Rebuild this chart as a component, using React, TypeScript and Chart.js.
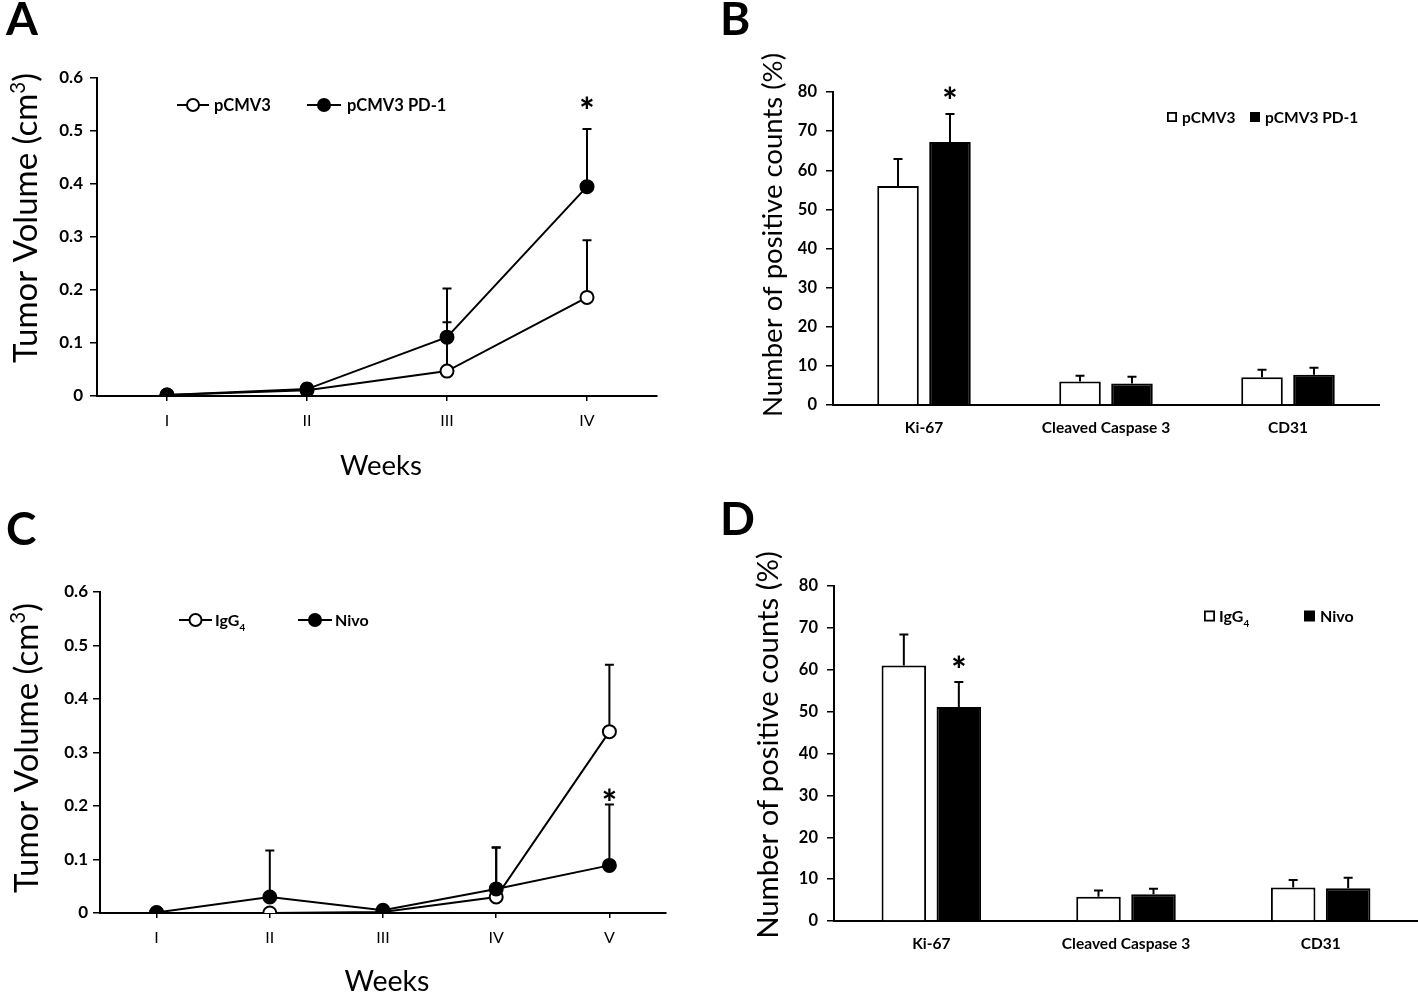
import React, { useEffect, useRef } from "react";
import { Chart, registerables } from "chart.js";

Chart.register(...registerables);

// ---------- Data ----------
const weeksA = ["I", "II", "III", "IV"];
const pcmv3Vol = [0.002, 0.011, 0.047, 0.186];
const pcmv3VolErr = [0, 0.008, 0.092, 0.108];
const pd1Vol = [0.002, 0.013, 0.111, 0.395];
const pd1VolErr = [0, 0.01, 0.092, 0.109];
const pd1VolSig = [false, false, false, true];

const markers = ["Ki-67", "Cleaved Caspase 3", "CD31"];
const pcmv3Pos = [56, 6.0, 7.1];
const pcmv3PosErr = [6.9, 1.5, 1.9];
const pd1Pos = [67.2, 5.5, 7.75];
const pd1PosErr = [7.2, 1.7, 1.8];
const pd1PosSig = [true, false, false];

const weeksC = ["I", "II", "III", "IV", "V"];
const iggVol = [0, 0, 0.002, 0.03, 0.339];
const iggVolErr = [0, 0, 0, 0.093, 0.125];
const nivoVol = [0.001, 0.03, 0.005, 0.045, 0.089];
const nivoVolErr = [0, 0.087, 0, 0.077, 0.114];
const nivoVolSig = [false, false, false, false, true];

const iggPos = [61, 5.8, 8.0];
const iggPosErr = [7.4, 1.5, 1.8];
const nivoPos = [51.1, 6.4, 7.8];
const nivoPosErr = [6, 1.3, 2.5];
const nivoPosSig = [true, false, false];

const volumeMax = 0.6;
const volumeStep = 0.1;
const countMax = 80;
const countStep = 10;

// ---------- Layout ----------
const PW = 709;
const PH = 496;
const FONT = "Lato";

type Seg = { t: string; k?: number; dy?: number };

function segWidths(ctx: CanvasRenderingContext2D, segs: Seg[], size: number, weight: string) {
  return segs.map((s) => {
    ctx.font = `${weight} ${size * (s.k ?? 1)}px ${FONT}`;
    return ctx.measureText(s.t).width;
  });
}

function drawRich(
  ctx: CanvasRenderingContext2D,
  segs: Seg[],
  size: number,
  weight: string,
  x: number,
  cy: number,
  rot: number,
  align: "center" | "left"
) {
  const ws = segWidths(ctx, segs, size, weight);
  const total = ws.reduce((a, b) => a + b, 0);
  ctx.save();
  ctx.translate(x, cy);
  ctx.rotate(rot);
  ctx.textAlign = "left";
  ctx.textBaseline = "alphabetic";
  ctx.fillStyle = "#000";
  let px = align === "center" ? -total / 2 : 0;
  segs.forEach((s, i) => {
    ctx.font = `${weight} ${size * (s.k ?? 1)}px ${FONT}`;
    ctx.fillText(s.t, px, 0.36 * size + (s.dy ?? 0) * size);
    px += ws[i];
  });
  ctx.restore();
}

function fitSize(ctx: CanvasRenderingContext2D, segs: Seg[], weight: string, span: number) {
  const ws = segWidths(ctx, segs, 100, weight);
  const total = ws.reduce((a, b) => a + b, 0);
  return (100 * span) / total;
}

type LegendItem = {
  kind: "lineOpen" | "lineFilled" | "boxOpen" | "boxFilled";
  x: number;
  y: number;
  segs: Seg[];
  size: number;
  weight: string;
  symW: number;
  gap: number;
};

type Decor = {
  letter: { text: string; x: number; y: number };
  yTitle: { segs: Seg[]; cx: number; cy: number; span: number };
  xTitle?: { segs: Seg[]; cx: number; cy: number; span: number };
  legend: LegendItem[];
  starOffset: number;
  capHalf: number;
};

function makePlugins(decor: Decor) {
  const errorBars = {
    id: "errorBars",
    beforeDatasetsDraw(chart: any) {
      const ctx: CanvasRenderingContext2D = chart.ctx;
      const ys = chart.scales.y;
      ctx.save();
      ctx.strokeStyle = "#000";
      ctx.lineWidth = 2;
      chart.data.datasets.forEach((ds: any, di: number) => {
        const meta = chart.getDatasetMeta(di);
        meta.data.forEach((el: any, i: number) => {
          const e = ds.errors ? ds.errors[i] : 0;
          if (!e) return;
          const v = ds.data[i];
          const x = el.x;
          const y0 = ys.getPixelForValue(v);
          const y1 = ys.getPixelForValue(v + e);
          ctx.beginPath();
          ctx.moveTo(x, y0);
          ctx.lineTo(x, y1);
          ctx.moveTo(x - decor.capHalf, y1);
          ctx.lineTo(x + decor.capHalf, y1);
          ctx.stroke();
        });
      });
      ctx.restore();
    },
    afterDatasetsDraw(chart: any) {
      const ctx: CanvasRenderingContext2D = chart.ctx;
      const ys = chart.scales.y;
      ctx.save();
      ctx.fillStyle = "#000";
      ctx.font = `900 36px ${FONT}`;
      const m = ctx.measureText("*");
      const off = (m.actualBoundingBoxAscent - m.actualBoundingBoxDescent) / 2;
      ctx.textAlign = "center";
      ctx.textBaseline = "alphabetic";
      chart.data.datasets.forEach((ds: any, di: number) => {
        const meta = chart.getDatasetMeta(di);
        meta.data.forEach((el: any, i: number) => {
          if (!ds.sig || !ds.sig[i]) return;
          const top = ys.getPixelForValue(ds.data[i] + (ds.errors ? ds.errors[i] : 0));
          ctx.fillText("*", el.x, top - decor.starOffset + off);
        });
      });
      ctx.restore();
    },
  };

  const decorPlugin = {
    id: "decor",
    afterDraw(chart: any) {
      const ctx: CanvasRenderingContext2D = chart.ctx;
      ctx.save();
      // panel letter
      ctx.fillStyle = "#000";
      ctx.font = `bold 46px ${FONT}`;
      ctx.textAlign = "left";
      ctx.textBaseline = "alphabetic";
      ctx.fillText(decor.letter.text, decor.letter.x, decor.letter.y);

      // y title
      const yt = decor.yTitle;
      const ys = fitSize(ctx, yt.segs, "normal", yt.span);
      drawRich(ctx, yt.segs, ys, "normal", yt.cx, yt.cy, -Math.PI / 2, "center");
      if (decor.xTitle) {
        const xt = decor.xTitle;
        const xs = fitSize(ctx, xt.segs, "normal", xt.span);
        drawRich(ctx, xt.segs, xs, "normal", xt.cx, xt.cy, 0, "center");
      }

      // legend
      decor.legend.forEach((it) => {
        ctx.save();
        ctx.strokeStyle = "#000";
        ctx.fillStyle = "#000";
        ctx.lineWidth = 2;
        if (it.kind === "lineOpen" || it.kind === "lineFilled") {
          ctx.beginPath();
          ctx.moveTo(it.x, it.y);
          ctx.lineTo(it.x + it.symW, it.y);
          ctx.stroke();
          ctx.beginPath();
          ctx.arc(it.x + it.symW / 2, it.y, 6, 0, Math.PI * 2);
          ctx.fillStyle = it.kind === "lineOpen" ? "#fff" : "#000";
          ctx.fill();
          ctx.stroke();
        } else {
          const s = it.symW;
          if (it.kind === "boxFilled") {
            ctx.fillRect(it.x, it.y - s / 2, s, s);
          } else {
            ctx.lineWidth = 1.8;
            ctx.fillStyle = "#fff";
            ctx.fillRect(it.x, it.y - s / 2, s, s);
            ctx.strokeRect(it.x + 0.9, it.y - s / 2 + 0.9, s - 1.8, s - 1.8);
          }
        }
        ctx.restore();
        drawRich(ctx, it.segs, it.size, it.weight, it.x + it.symW + it.gap, it.y, 0, "left");
      });
      ctx.restore();
    },
  };
  return [errorBars, decorPlugin];
}

function yAxisCommon(max: number, step: number, tickPad: number, fmt: (v: number) => string, fontSize: number) {
  return {
    min: 0,
    max,
    afterFit: (s: any) => {
      s.width = 60;
    },
    ticks: {
      stepSize: step,
      color: "#000",
      padding: tickPad,
      font: { family: FONT, size: fontSize, weight: "bold" },
      callback: (v: any) => fmt(Number(v)),
    },
    grid: {
      display: true,
      drawOnChartArea: false,
      drawTicks: true,
      tickLength: 7,
      color: "#000",
      lineWidth: 1.5,
    },
    border: { display: true, color: "#000", width: 2 },
  };
}

type LineSeries = { data: number[]; err: number[]; sig?: boolean[]; open: boolean };

function lineConfig(labels: string[], series: LineSeries[], pad: any, decor: Decor, yTickPad: number) {
  return {
    type: "line" as const,
    data: {
      labels,
      datasets: series.map((s) => ({
        data: s.data,
        errors: s.err,
        sig: s.sig,
        order: s.open ? 1 : 0,
        borderColor: "#000",
        borderWidth: 2,
        pointRadius: 6.5,
        pointHoverRadius: 6.5,
        pointBorderWidth: 2,
        pointBackgroundColor: s.open ? "#fff" : "#000",
        pointBorderColor: "#000",
        tension: 0,
        fill: false,
      })),
    },
    options: {
      responsive: false,
      animation: false,
      events: [],
      layout: { padding: pad },
      plugins: { legend: { display: false }, tooltip: { enabled: false } },
      scales: {
        x: {
          type: "category",
          offset: true,
          afterFit: (s: any) => {
            s.height = 40;
          },
          grid: {
            display: true,
            drawOnChartArea: false,
            drawTicks: true,
            tickLength: 5,
            color: "#000",
            lineWidth: 1.5,
            offset: false,
          },
          border: { display: true, color: "#000", width: 2 },
          ticks: {
            color: "#000",
            padding: 10,
            maxRotation: 0,
            autoSkip: false,
            font: { family: FONT, size: 16 },
          },
        },
        y: yAxisCommon(volumeMax, volumeStep, yTickPad, (v) => String(Math.round(v * 10) / 10), 17),
      },
    },
    plugins: makePlugins(decor),
  };
}

type BarSeries = { data: number[]; err: number[]; sig?: boolean[]; open: boolean };

function barConfig(labels: string[], series: BarSeries[], pad: any, decor: Decor, cp: number, bp: number) {
  return {
    type: "bar" as const,
    data: {
      labels,
      datasets: series.map((s) => ({
        data: s.data,
        errors: s.err,
        sig: s.sig,
        backgroundColor: s.open ? "#fff" : "#000",
        borderColor: "#000",
        borderWidth: 2,
        categoryPercentage: cp,
        barPercentage: bp,
      })),
    },
    options: {
      responsive: false,
      animation: false,
      events: [],
      layout: { padding: pad },
      plugins: { legend: { display: false }, tooltip: { enabled: false } },
      scales: {
        x: {
          type: "category",
          afterFit: (s: any) => {
            s.height = 40;
          },
          grid: { display: false, drawTicks: false },
          border: { display: true, color: "#000", width: 2 },
          ticks: {
            color: "#000",
            padding: 14,
            maxRotation: 0,
            autoSkip: false,
            font: { family: FONT, size: 15.5, weight: "bold" },
          },
        },
        y: yAxisCommon(countMax, countStep, 9, (v) => String(v), 16.5),
      },
    },
    plugins: makePlugins(decor),
  };
}

const volTitle: Seg[] = [{ t: "Tumor Volume (cm" }, { t: "3", k: 0.62, dy: -0.38 }, { t: ")" }];
const cntTitle: Seg[] = [{ t: "Number of positive counts (%)" }];

const configA = () =>
  lineConfig(
    weeksA,
    [
      { data: pcmv3Vol, err: pcmv3VolErr, open: true },
      { data: pd1Vol, err: pd1VolErr, sig: pd1VolSig, open: false },
    ],
    { left: 37, right: 52, top: 78, bottom: 60 },
    {
      letter: { text: "A", x: 6, y: 35 },
      yTitle: { segs: volTitle, cx: 25.5, cy: 218, span: 290 },
      xTitle: { segs: [{ t: "Weeks" }], cx: 381, cy: 465, span: 82 },
      legend: [
        { kind: "lineOpen", x: 177, y: 105, segs: [{ t: "pCMV3" }], size: 16.5, weight: "bold", symW: 32, gap: 5 },
        { kind: "lineFilled", x: 307, y: 105, segs: [{ t: "pCMV3 PD-1" }], size: 16.5, weight: "bold", symW: 34, gap: 6 },
      ],
      starOffset: 26,
      capHalf: 4.5,
    },
    7
  );

const configB = () =>
  barConfig(
    markers,
    [
      { data: pcmv3Pos, err: pcmv3PosErr, open: true },
      { data: pd1Pos, err: pd1PosErr, sig: pd1PosSig, open: false },
    ],
    { left: 64, right: 39, top: 92, bottom: 51 },
    {
      letter: { text: "B", x: 11, y: 35 },
      yTitle: { segs: cntTitle, cx: 63, cy: 235, span: 364 },
      legend: [
        { kind: "boxOpen", x: 458, y: 117, segs: [{ t: "pCMV3" }], size: 15.5, weight: "bold", symW: 10, gap: 5 },
        { kind: "boxFilled", x: 541, y: 117, segs: [{ t: "pCMV3 PD-1" }], size: 15.5, weight: "bold", symW: 10, gap: 5 },
      ],
      starOffset: 21,
      capHalf: 4.5,
    },
    0.571,
    0.8
  );

const configC = () =>
  lineConfig(
    weeksC,
    [
      { data: iggVol, err: iggVolErr, open: true },
      { data: nivoVol, err: nivoVolErr, sig: nivoVolSig, open: false },
    ],
    { left: 40, right: 43, top: 96, bottom: 39 },
    {
      letter: { text: "C", x: 6, y: 49 },
      yTitle: { segs: volTitle, cx: 26, cy: 252, span: 290 },
      xTitle: { segs: [{ t: "Weeks" }], cx: 387, cy: 485, span: 85 },
      legend: [
        { kind: "lineOpen", x: 179, y: 124, segs: [{ t: "IgG" }, { t: "4", k: 0.62, dy: 0.3 }], size: 16, weight: "bold", symW: 33, gap: 3 },
        { kind: "lineFilled", x: 298, y: 124, segs: [{ t: "Nivo" }], size: 16, weight: "bold", symW: 34, gap: 3 },
      ],
      starOffset: 10,
      capHalf: 4.5,
    },
    5
  );

const configD = () =>
  barConfig(
    markers,
    [
      { data: iggPos, err: iggPosErr, open: true },
      { data: nivoPos, err: nivoPosErr, sig: nivoPosSig, open: false },
    ],
    { left: 65, right: 0, top: 90, bottom: 31 },
    {
      letter: { text: "D", x: 11, y: 39 },
      yTitle: { segs: cntTitle, cx: 58, cy: 249, span: 388 },
      legend: [
        { kind: "boxOpen", x: 495, y: 120, segs: [{ t: "IgG" }, { t: "4", k: 0.62, dy: 0.3 }], size: 16, weight: "bold", symW: 11, gap: 4 },
        { kind: "boxFilled", x: 595, y: 120, segs: [{ t: "Nivo" }], size: 16, weight: "bold", symW: 11, gap: 5 },
      ],
      starOffset: 20,
      capHalf: 4.5,
    },
    0.565,
    0.81
  );

function Panel({ make, left, top }: { make: () => any; left: number; top: number }) {
  const ref = useRef<HTMLCanvasElement>(null);
  useEffect(() => {
    const chart = new Chart(ref.current as HTMLCanvasElement, make());
    return () => chart.destroy();
  }, []);
  return (
    <canvas
      ref={ref}
      width={PW}
      height={PH}
      style={{ position: "absolute", left, top, width: PW, height: PH }}
    />
  );
}

export default function App() {
  return (
    <div
      style={{
        position: "absolute",
        left: 0,
        top: 0,
        width: 1418,
        height: 992,
        background: "#fff",
        overflow: "hidden",
      }}
    >
      <Panel make={configA} left={0} top={0} />
      <Panel make={configB} left={709} top={0} />
      <Panel make={configC} left={0} top={496} />
      <Panel make={configD} left={709} top={496} />
    </div>
  );
}
